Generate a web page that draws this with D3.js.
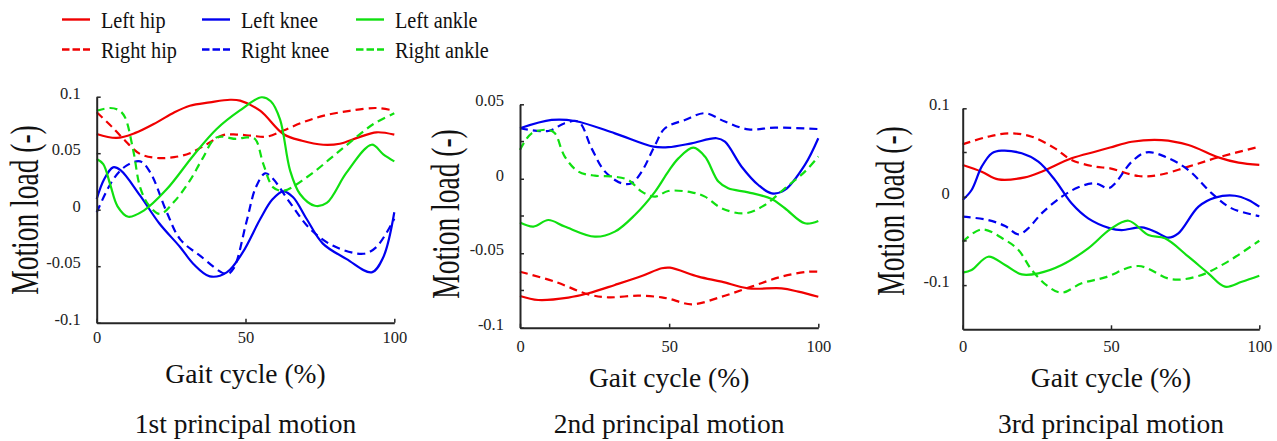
<!DOCTYPE html>
<html>
<head>
<meta charset="utf-8">
<script src="https://cdn.jsdelivr.net/npm/d3@7"></script>
<style>
  html, body { margin: 0; padding: 0; background: #fff; }
  svg { display: block; font-family: "Liberation Serif", "Times New Roman", serif; }
</style>
</head>
<body>
<svg id="chart" width="1277" height="441"></svg>
<script>
// ---------------- DATA ----------------
const seriesNames = ["Left hip", "Right hip", "Left knee", "Right knee", "Left ankle", "Right ankle"];
const xTickValues = [0, 50, 100];
const xTickLabels = ["0", "50", "100"];
const panelTitles = ["1st principal motion", "2nd principal motion", "3rd principal motion"];
const xAxisTitle = "Gait cycle (%)";
const yAxisTitle = "Motion load (-)";

const p1YTicks = [-0.1, -0.05, 0, 0.05, 0.1];
const p1YTickLabels = ["-0.1", "-0.05", "0", "0.05", "0.1"];
const p1YMinor = [];
const p2YTicks = [-0.1, -0.05, 0, 0.05];
const p2YTickLabels = ["-0.1", "-0.05", "0", "0.05"];
const p2YMinor = [-0.075, -0.025, 0.025];
const p3YTicks = [-0.1, 0, 0.1];
const p3YTickLabels = ["-0.1", "0", "0.1"];
const p3YMinor = [-0.05, 0.05];

// Panel 1 : [gait %, load]
const p1LeftHip = [[0,0.067],[6.7,0.0635],[13,0.068],[20.2,0.0773],[26,0.086],[31.3,0.092],[38,0.095],[44.8,0.0973],[48.2,0.0965],[54.9,0.0876],[62.7,0.067],[69,0.061],[76.1,0.0575],[81.7,0.0584],[88,0.064],[94,0.0685],[100,0.0664]];
const p1RightHip = [[0,0.0862],[4.5,0.075],[9,0.0626],[14.6,0.0493],[20.2,0.0458],[26,0.0465],[31.3,0.05],[37,0.058],[42.5,0.066],[47,0.0665],[52,0.0655],[57,0.0646],[62.7,0.07],[69,0.077],[76,0.083],[85,0.0875],[94,0.09],[100,0.0876]];
const p1LeftKnee = [[0,0.0095],[2.5,0.027],[5.5,0.0375],[8,0.035],[14.6,0.0124],[21,-0.012],[28,-0.033],[32.5,-0.048],[38,-0.059],[43.7,-0.0555],[49,-0.038],[55,-0.008],[59,0.009],[62.7,0.0163],[66,0.011],[70.5,-0.008],[76,-0.03],[84,-0.0437],[92.4,-0.0554],[96.3,-0.042],[100,-0.0023]];
const p1RightKnee = [[0,-0.0024],[5.6,0.027],[10,0.039],[14.6,0.0428],[18,0.033],[23.5,-0.002],[28,-0.026],[34.7,-0.0407],[43.7,-0.057],[46,-0.052],[50.4,-0.01],[53.5,0.02],[56.6,0.0322],[59,0.028],[65,0.006],[71.7,-0.017],[79.5,-0.032],[89.6,-0.039],[94,-0.033],[100,-0.008]];
const p1LeftAnkle = [[0,0.0449],[2.2,0.0404],[4.5,0.0227],[7,0.003],[10.6,-0.0062],[15.7,-0.001],[23.5,0.018],[32.5,0.048],[40.3,0.0714],[48,0.0876],[55.4,0.0995],[58.5,0.096],[61.6,0.08],[65,0.0345],[68.3,0.0139],[73.3,0.0035],[77.3,0.006],[84,0.033],[92.4,0.0575],[96.3,0.049],[100,0.0428]];
const p1RightAnkle = [[0,0.0876],[4.5,0.09],[7.5,0.088],[9.5,0.0818],[12.3,0.0522],[14.6,0.0198],[17.5,0.004],[21.3,-0.0038],[26,0.007],[31.3,0.0257],[35.5,0.045],[40.3,0.064],[47,0.0626],[50.5,0.064],[53.2,0.0626],[56,0.0404],[59.3,0.0198],[62.7,0.0168],[70.6,0.0287],[81.7,0.0522],[93,0.0758],[100,0.0853]];

// Panel 2
const p2LeftHip = [[0,-0.0787],[6.1,-0.0814],[16.2,-0.0798],[22.9,-0.0769],[31.8,-0.0713],[40.8,-0.0653],[47.5,-0.0601],[50.3,-0.0597],[59.8,-0.0657],[67.6,-0.0691],[76.5,-0.0736],[87.7,-0.0736],[93.3,-0.0758],[100,-0.0792]];
const p2RightHip = [[0,-0.0624],[11.7,-0.0691],[22.9,-0.0776],[29.6,-0.0796],[39.7,-0.0785],[47.5,-0.0796],[50.3,-0.0807],[57.5,-0.0843],[67.6,-0.0792],[77.6,-0.0724],[87.7,-0.0657],[96.6,-0.0624],[100,-0.0624]];
const p2LeftKnee = [[0,0.0339],[10.6,0.0395],[18.4,0.0388],[31.8,0.0305],[44.7,0.0216],[49.7,0.0212],[57.5,0.0238],[65.9,0.0272],[68.7,0.0249],[74.3,0.0081],[79.9,-0.0042],[84.4,-0.0098],[88.8,-0.0075],[95.5,0.0093],[100,0.0272]];
const p2RightKnee = [[0,0.0339],[9.5,0.0321],[15,0.0373],[19.6,0.0384],[24,0.0204],[28.5,0.0048],[34,-0.003],[37.4,-0.003],[40.8,0.0048],[45.3,0.0227],[48.6,0.0339],[55.3,0.0395],[62,0.044],[68.7,0.0384],[76.5,0.0332],[85.5,0.0343],[100,0.0334]];
const p2LeftAnkle = [[0,-0.0294],[4.5,-0.0321],[9.5,-0.0277],[15,-0.0321],[25.1,-0.0389],[31.8,-0.0355],[38.5,-0.0243],[45.3,-0.0086],[49.7,0.0048],[53.1,0.0137],[58.1,0.0209],[62,0.0149],[66.5,-0.0019],[69.8,-0.0064],[76.5,-0.0091],[84.4,-0.0136],[88.8,-0.0198],[95.5,-0.0299],[100,-0.0283]];
const p2RightAnkle = [[0,0.0194],[3.9,0.0305],[9.5,0.0328],[11.7,0.0305],[15,0.0149],[19.6,0.0048],[25.1,0.0021],[31.8,0.0014],[36.3,-0.0008],[40.8,-0.0086],[45.3,-0.012],[49.7,-0.0082],[57.5,-0.0091],[62,-0.012],[67.6,-0.0198],[75.4,-0.0232],[82.1,-0.0176],[88.8,-0.0064],[95.5,0.0048],[100,0.0149]];

// Panel 3
const p3LeftHip = [[0,0.0359],[6.4,0.0283],[12,0.0196],[21,0.0219],[26.6,0.0283],[36.7,0.0434],[44.6,0.0509],[49.7,0.0556],[57,0.0622],[67.1,0.0641],[76.1,0.0585],[86.2,0.0445],[93,0.0385],[100,0.0359]];
const p3RightHip = [[0,0.0592],[8.6,0.0679],[15.9,0.0717],[23.3,0.0679],[31.1,0.0547],[36.7,0.0415],[44.6,0.034],[49.7,0.0321],[59.2,0.0234],[66,0.0245],[76.1,0.034],[86.2,0.0445],[100,0.0566]];
const p3LeftKnee = [[0,-0.0037],[3,0.0076],[6.4,0.034],[9.8,0.0491],[13.1,0.0521],[19.9,0.0491],[25.5,0.0396],[31.1,0.0189],[36.7,-0.0075],[42.3,-0.0245],[49.7,-0.0358],[53.6,-0.0377],[60.4,-0.0347],[64.9,-0.0396],[69.3,-0.0464],[72.7,-0.0415],[79.5,-0.0113],[85.1,-0.0011],[91.8,0.0011],[96.3,-0.0037],[100,-0.0113]];
const p3RightKnee = [[0,-0.0226],[8.6,-0.0264],[14.3,-0.0332],[18.8,-0.0426],[22.1,-0.0358],[26.6,-0.0189],[33.4,0],[39,0.0106],[44.6,0.0151],[49.2,0.0095],[51.4,0.0151],[57,0.0396],[62,0.0502],[68.2,0.0453],[76.1,0.0302],[84,0.0038],[90.7,-0.0132],[100,-0.0219]];
const p3LeftAnkle = [[0,-0.0859],[3,-0.0829],[8.6,-0.0679],[14.3,-0.0773],[19.9,-0.0879],[25.5,-0.0867],[33.4,-0.0773],[42.3,-0.0584],[49.7,-0.037],[55.9,-0.0272],[62.6,-0.0434],[68.2,-0.0471],[76.1,-0.0679],[82.8,-0.0867],[88.4,-0.1018],[94.1,-0.0962],[100,-0.0894]];
const p3RightAnkle = [[0,-0.0509],[6.4,-0.037],[14.3,-0.049],[18.8,-0.0603],[23.3,-0.083],[28.9,-0.1018],[33.4,-0.1086],[40.1,-0.098],[48,-0.0913],[59.2,-0.0784],[70.5,-0.0935],[79.5,-0.0897],[88.4,-0.0754],[100,-0.0498]];

// ---------------- STYLE / LAYOUT ----------------
const colors = ["#f00000", "#f00000", "#0000f0", "#0000f0", "#10e010", "#10e010"];
const dashed = [false, true, false, true, false, true];
const DASH = "8,5";
const LINE_W = 2.2;
const AXIS_COLOR = "#262626";
const FONT = "'Liberation Serif', 'Times New Roman', serif";

const panels = [
  { series: [p1LeftHip, p1RightHip, p1LeftKnee, p1RightKnee, p1LeftAnkle, p1RightAnkle],
    x0: 96.7, x1: 394.3, yDomain: [-0.1, 0.1], yTop: 96.7, yBot: 322.7,
    yTicks: p1YTicks, yLabels: p1YTickLabels, yMinor: p1YMinor,
    yLabPad: 16, xLabPad: 9, yTitleX: 38, yTitleY: 210, xTitleY: 383, subY: 433 },
  { series: [p2LeftHip, p2RightHip, p2LeftKnee, p2RightKnee, p2LeftAnkle, p2RightAnkle],
    x0: 520, x1: 818.3, yDomain: [-0.1, 0.05], yTop: 104.3, yBot: 327.7,
    yTicks: p2YTicks, yLabels: p2YTickLabels, yMinor: p2YMinor,
    yLabPad: 16, xLabPad: 13, yTitleX: 459, yTitleY: 214, xTitleY: 387, subY: 433 },
  { series: [p3LeftHip, p3RightHip, p3LeftKnee, p3RightKnee, p3LeftAnkle, p3RightAnkle],
    x0: 962.7, x1: 1259.3, yDomain: [-0.15, 0.1], yTop: 108.3, yBot: 329.3,
    yTicks: p3YTicks, yLabels: p3YTickLabels, yMinor: p3YMinor,
    yLabPad: 13, xLabPad: 11, yTitleX: 904, yTitleY: 211, xTitleY: 387, subY: 433 }
];

const svg = d3.select("#chart");

panels.forEach((p, pi) => {
  const x = d3.scaleLinear().domain([0, 100]).range([p.x0, p.x1]);
  const y = d3.scaleLinear().domain(p.yDomain).range([p.yBot, p.yTop]);
  const g = svg.append("g");

  const line = d3.line()
    .x(d => x(d[0]))
    .y(d => y(d[1]))
    .curve(d3.curveCatmullRom.alpha(0.5));

  p.series.forEach((s, si) => {
    g.append("path")
      .datum(s)
      .attr("d", line)
      .attr("fill", "none")
      .attr("stroke", colors[si])
      .attr("stroke-width", LINE_W)
      .attr("stroke-linejoin", "round")
      .attr("stroke-dasharray", dashed[si] ? DASH : null);
  });

  // y axis
  const yAxis = d3.axisLeft(y)
    .tickValues(p.yTicks)
    .tickFormat((d, i) => p.yLabels[i])
    .tickSizeInner(-4)
    .tickSizeOuter(0)
    .tickPadding(p.yLabPad);
  const ya = g.append("g").attr("transform", `translate(${p.x0},0)`).call(yAxis);
  ya.attr("font-family", null).attr("font-size", null);
  ya.select(".domain").attr("stroke", AXIS_COLOR).attr("stroke-width", 2);
  ya.selectAll(".tick line").attr("stroke", AXIS_COLOR).attr("stroke-width", 1.5);
  ya.selectAll(".tick text")
    .style("font-family", FONT)
    .style("font-size", "16.5px")
    .attr("fill", "#222")
    .attr("dy", "0.08em");

  g.selectAll(".minor").data(p.yMinor).enter().append("line")
    .attr("x1", p.x0).attr("x2", p.x0 + 4)
    .attr("y1", d => y(d)).attr("y2", d => y(d))
    .attr("stroke", AXIS_COLOR).attr("stroke-width", 1.5);

  // x axis
  const xAxis = d3.axisBottom(x)
    .tickValues(xTickValues)
    .tickFormat((d, i) => xTickLabels[i])
    .tickSizeInner(-4)
    .tickSizeOuter(0)
    .tickPadding(p.xLabPad);
  const xa = g.append("g").attr("transform", `translate(0,${p.yBot})`).call(xAxis);
  xa.attr("font-family", null).attr("font-size", null);
  xa.select(".domain").attr("stroke", AXIS_COLOR).attr("stroke-width", 2);
  xa.selectAll(".tick line").attr("stroke", AXIS_COLOR).attr("stroke-width", 1.5);
  xa.selectAll(".tick text")
    .style("font-family", FONT)
    .style("font-size", "16.5px")
    .attr("fill", "#222");

  // y title (glyphs wider across, as in the reference)
  g.append("text")
    .attr("transform", `translate(${p.yTitleX},${p.yTitleY}) rotate(-90) scale(1,1.42)`)
    .attr("text-anchor", "middle")
    .style("font-family", FONT)
    .style("font-size", "27.5px")
    .attr("fill", "#111")
    .text(yAxisTitle);
  g.append("text")
    .attr("x", (p.x0 + p.x1) / 2)
    .attr("y", p.xTitleY)
    .attr("text-anchor", "middle")
    .style("font-family", FONT)
    .style("font-size", "27.5px")
    .attr("fill", "#111")
    .text(xAxisTitle);
  g.append("text")
    .attr("x", (p.x0 + p.x1) / 2)
    .attr("y", p.subY)
    .attr("text-anchor", "middle")
    .style("font-family", FONT)
    .style("font-size", "27.5px")
    .attr("fill", "#111")
    .text(panelTitles[pi]);
});

// legend
const legendCols = [62, 202, 356];
const legendRows = [19.5, 49.5];
const legend = svg.append("g");
seriesNames.forEach((name, i) => {
  const col = Math.floor(i / 2), row = i % 2;
  const lx = legendCols[col], ly = legendRows[row];
  legend.append("line")
    .attr("x1", lx).attr("x2", lx + 28)
    .attr("y1", ly).attr("y2", ly)
    .attr("stroke", colors[i])
    .attr("stroke-width", 2.4)
    .attr("stroke-dasharray", dashed[i] ? "7.5,3" : null);
  legend.append("text")
    .attr("transform", `translate(${lx + 39},${ly + 8}) scale(0.88,1)`)
    .style("font-family", FONT)
    .style("font-size", "23px")
    .attr("fill", "#111")
    .text(name);
});
</script>
</body>
</html>
